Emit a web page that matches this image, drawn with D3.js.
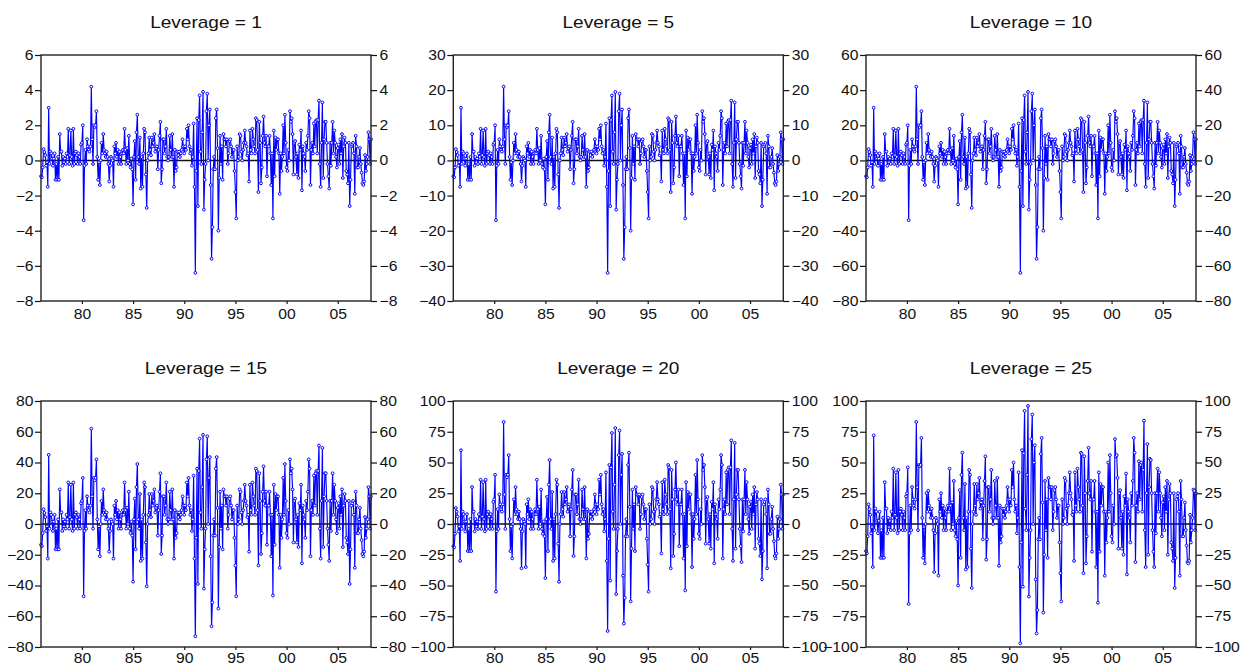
<!DOCTYPE html>
<html>
<head>
<meta charset="utf-8">
<script src="https://cdn.jsdelivr.net/npm/d3@7"></script>
<style>
  body { margin: 0; background: #fff; }
  text { font-family: "Liberation Sans", Arial, sans-serif; fill: #111; }
</style>
</head>
<body>
<svg id="chart" width="1240" height="666"></svg>
<script>
// monthly observations, 1976M01 .. 2008M04
const startYear = 1976;
const leverages = [1, 5, 10, 15, 20, 25];
const xTickYears = [1980, 1985, 1990, 1995, 2000, 2005];
const xTickLabels = ["80", "85", "90", "95", "00", "05"];

const yTicks1 = [6, 4, 2, 0, -2, -4, -6, -8];
const yTicks5 = [30, 20, 10, 0, -10, -20, -30, -40];
const yTicks10 = [60, 40, 20, 0, -20, -40, -60, -80];
const yTicks15 = [80, 60, 40, 20, 0, -20, -40, -60, -80];
const yTicks20 = [100, 75, 50, 25, 0, -25, -50, -75, -100];
const yTicks25 = [100, 75, 50, 25, 0, -25, -50, -75, -100];

const lev1 = [
  -0.9,-0.96,-0.4,0.64,0.48,0.3,-0.3,-0.1,-1.5,3.0,-0.2,0.5,
  0.4,0.1,-0.3,0.1,0.4,-1.1,-0.2,-1.1,0.2,-1.1,1.5,0.5,
  0.5,-0.3,0.2,-0.1,0.1,-0.2,0.4,0.2,1.8,-0.2,0.3,1.7,
  0.2,-0.3,1.8,-0.2,0.4,0.5,0.3,-0.2,0.4,0.2,-0.2,0.9,
  1.0,2.0,-3.4,-0.3,0.6,-0.2,1.2,0.8,0.6,0.5,0.8,4.2,
  1.2,-0.2,2.0,1.9,2.0,2.8,0.2,-1.1,-0.1,-1.4,0,1.0,
  0.4,1.5,0.6,0.4,0.2,0.5,0.2,-0.2,-1.2,-0.3,0.2,0.1,
  0,-1.5,0.8,0.4,1.0,0.2,0.6,-0.2,0.5,0.2,-0.2,0.4,
  0.6,0.4,1.8,0.6,-0.2,0.7,0,1.4,-0.2,-0.4,0.1,-0.5,
  -2.5,0.2,1.1,-1.1,1.6,2.6,0.2,-0.2,1.3,-1.6,0.2,-1.5,
  0.4,1.8,1.6,-0.8,-2.7,0,0.4,1.3,0.6,0.3,1.3,0.8,
  1.0,1.5,0.5,0.7,0.8,-0.5,0.6,1.4,2.2,-1.3,-0.5,1.2,
  1.2,0.4,0.8,1.8,0.2,0,0.2,1.4,0.6,0.2,1.5,0.2,
  -1.5,0.6,-0.6,-0.4,0.5,0.3,0.5,0.2,0.4,0.6,1.2,0.8,
  0.4,0.8,0.6,1.8,1.2,2.0,0.8,0.4,0.6,-0.3,0.2,2.1,
  -1.5,-6.4,-0.6,2.4,-2.6,2.3,3.7,0.5,-0.2,1.6,3.9,-2.8,
  -1.1,-0.2,2.8,3.8,0,2.0,2.9,-1.4,-5.6,-3.8,-0.5,0.2,
  -0.5,2.4,2.9,0.7,-4.0,-1.0,1.4,-0.2,0.8,-1.1,1.5,1.2,
  1.2,0.8,1.2,-0.2,0.4,1.1,1.2,0.8,0.2,0.6,0.6,-0.6,
  -1.8,-3.3,0.8,0,0.2,1.5,1.4,0.5,0,0.6,1.0,1.7,
  1.0,0.8,0.3,0.4,-1.2,1.7,0.6,0.4,1.8,1.2,0.8,0.4,
  2.4,2.3,0.6,-1.8,2.2,1.0,-1.3,-0.4,1.4,2.5,1.0,0.8,
  1.4,-0.9,0.8,0.8,1.4,0.4,-1.4,0.4,-3.3,1.7,-0.9,1.3,
  0.6,1.2,1.2,0.4,-1.9,0.4,-0.6,0.2,2.0,0.4,2.6,1.0,
  -0.4,-0.6,0.6,0,2.8,2.2,2.4,1.5,-0.8,1.0,1.1,0.2,
  -0.8,0.4,-1.0,0.9,0.6,1.7,-1.7,0.8,0.4,0.2,-0.6,1.0,
  0.6,1.4,2.8,2.4,-1.4,0.6,1.0,0.4,2.1,0.8,2.2,2.3,
  0.4,2.3,3.4,-0.2,-1.5,1.0,3.3,-1.0,1.2,2.2,2.2,1.0,
  -0.2,-0.9,-1.6,1.0,-0.3,1.0,2.2,0.4,1.7,1.0,0.2,-0.4,
  0.7,0.9,-0.2,1.2,0.4,1.5,-1.0,0.8,1.3,1.0,-0.6,-0.8,
  -1.3,1.0,-2.6,-1.1,0.8,0.9,1.0,0.4,-1.9,1.4,0.8,-0.4,
  -0.4,0.2,0.7,-0.2,-0.7,-1.3,-1.4,-1.2,0.3,-0.6,-0.2,0.2,
  1.6,1.2,-0.2,1.2
];

const lev5 = [
  -4.5,-4.8,-2,3.2,2.4,1.5,-1.5,-0.5,-7.5,15,-1,2.5,
  2,0.5,-1.5,0.5,2,-5.5,-1,-5.5,1,-5.5,7.5,2.5,
  2.5,-1.5,1,-0.5,0.5,-1,2,1,9,-1,1.5,8.5,
  1,-1.5,9,-1,2,2.5,1.5,-1,2,1,-1,4.5,
  5,10,-17,-1.5,3,-1,6,4,3,2.5,4,21,
  6,-1,10,9.5,10,14,1,-5.5,-0.5,-7,0,5,
  2,7.5,3,2,1,2.5,1,-1,-6,-1.5,1,0.5,
  0,-7.5,4,2,5,1,3,-1,2.5,1,-1,2,
  3,2,9,3,-1,3.5,0,7,-1,-2,0.5,-2.5,
  -12.5,1,5.5,-5.5,8,13,1,-1,6.5,-8,1,-7.5,
  2,9,8,-4,-13.5,0,2,6.5,3,1.5,6.5,4,
  5,7.5,2.5,3.5,4,-2.5,3,7,11,-6.5,-2.5,6,
  6,2,4,9,1,0,1,7,3,1,7.5,1,
  -7.5,3,-3,-2,2.5,1.5,2.5,1,2,3,6,4,
  2,4,3,9,6,10,4,2,3,-1.5,1,10.5,
  -7.5,-32,-3,12,-13,11.5,18.5,2.5,-1,8,19.5,-14,
  -5.5,-1,14,19,0,10,14.5,-7,-28,-19,-2.5,1,
  -2.5,12,14.5,3.5,-20,-5,7,-1,4,-5.5,7.5,6,
  6,4,6,-1,2,5.5,6,4,1,3,3,-3,
  -9,-16.5,4,0,1,7.5,7,2.5,0,3,5,8.5,
  5,4,1.5,2,-6,8.5,3,2,9,6,4,2,
  12,11.5,3,-9,11,5,-6.5,-2,7,12.5,5,4,
  7,-4.5,4,4,7,2,-7,2,-16.5,8.5,-4.5,6.5,
  3,6,6,2,-9.5,2,-3,1,10,2,13,5,
  -2,-3,3,0,14,11,12,7.5,-4,5,5.5,1,
  -4,2,-5,4.5,3,8.5,-8.5,4,2,1,-3,5,
  3,7,14,12,-7,3,5,2,10.5,4,11,11.5,
  2,11.5,17,-1,-7.5,5,16.5,-5,6,11,11,5,
  -1,-4.5,-8,5,-1.5,5,11,2,8.5,5,1,-2,
  3.5,4.5,-1,6,2,7.5,-5,4,6.5,5,-3,-4,
  -6.5,5,-13,-5.5,4,4.5,5,2,-9.5,7,4,-2,
  -2,1,3.5,-1,-3.5,-6.5,-7,-6,1.5,-3,-1,1,
  8,6,-1,6
];

const lev10 = [
  -9,-9.6,-4,6.4,4.8,3,-3,-1,-15,30,-2,5,
  4,1,-3,1,4,-11,-2,-11,2,-11,15,5,
  5,-3,2,-1,1,-2,4,2,18,-2,3,17,
  2,-3,18,-2,4,5,3,-2,4,2,-2,9,
  10,20,-34,-3,6,-2,12,8,6,5,8,42,
  12,-2,20,19,20,28,2,-11,-1,-14,0,10,
  4,15,6,4,2,5,2,-2,-12,-3,2,1,
  0,-15,8,4,10,2,6,-2,5,2,-2,4,
  6,4,18,6,-2,7,0,14,-2,-4,1,-5,
  -25,2,11,-11,16,26,2,-2,13,-16,2,-15,
  4,18,16,-8,-27,0,4,13,6,3,13,8,
  10,15,5,7,8,-5,6,14,22,-13,-5,12,
  12,4,8,18,2,0,2,14,6,2,15,2,
  -15,6,-6,-4,5,3,5,2,4,6,12,8,
  4,8,6,18,12,20,8,4,6,-3,2,21,
  -15,-64,-6,24,-26,23,37,5,-2,16,39,-28,
  -11,-2,28,38,0,20,29,-14,-56,-38,-5,2,
  -5,24,29,7,-40,-10,14,-2,8,-11,15,12,
  12,8,12,-2,4,11,12,8,2,6,6,-6,
  -18,-33,8,0,2,15,14,5,0,6,10,17,
  10,8,3,4,-12,17,6,4,18,12,8,4,
  24,23,6,-18,22,10,-13,-4,14,25,10,8,
  14,-9,8,8,14,4,-14,4,-33,17,-9,13,
  6,12,12,4,-19,4,-6,2,20,4,26,10,
  -4,-6,6,0,28,22,24,15,-8,10,11,2,
  -8,4,-10,9,6,17,-17,8,4,2,-6,10,
  6,14,28,24,-14,6,10,4,21,8,22,23,
  4,23,34,-2,-15,10,33,-10,12,22,22,10,
  -2,-9,-16,10,-3,10,22,4,17,10,2,-4,
  7,9,-2,12,4,15,-10,8,13,10,-6,-8,
  -13,10,-26,-11,8,9,10,4,-19,14,8,-4,
  -4,2,7,-2,-7,-13,-14,-12,3,-6,-2,2,
  16,12,-2,12
];

const lev15 = [
  -13.5,-14.4,-6,9.6,7.2,4.5,-4.5,-1.5,-22.5,45,-3,7.5,
  6,1.5,-4.5,1.5,6,-16.5,-3,-16.5,3,-16.5,22.5,7.5,
  7.5,-4.5,3,-1.5,1.5,-3,6,3,27,-3,4.5,25.5,
  3,-4.5,27,-3,6,7.5,4.5,-3,6,3,-3,13.5,
  15,30,-47,-4.5,9,-3,18,12,9,7.5,12,62,
  18,-3,30,28.5,30,42,3,-16.5,-1.5,-21,0,15,
  6,22.5,9,6,3,7.5,3,-3,-18,-4.5,3,1.5,
  0,-22.5,12,6,15,3,9,-3,7.5,3,-3,6,
  9,6,27,9,-3,10.5,0,21,-3,-6,1.5,-7.5,
  -37.5,3,16.5,-16.5,24,39,3,-3,19.5,-24,3,-22.5,
  6,27,24,-12,-40.5,0,6,19.5,9,4.5,19.5,12,
  15,22.5,7.5,10.5,12,-7.5,9,21,33,-19.5,-7.5,18,
  18,6,12,27,3,0,3,21,9,3,22.5,3,
  -22.5,9,-9,-6,7.5,4.5,7.5,3,6,9,18,12,
  6,12,9,27,18,30,12,6,9,-4.5,3,31.5,
  -22.5,-73,-9,36,-39,34.5,55.5,7.5,-3,24,58,-42,
  -16.5,-3,42,57,0,30,43.5,-21,-66.5,-51,-7.5,3,
  -7.5,36,43.5,10.5,-55,-15,21,-3,12,-16.5,22.5,18,
  18,12,18,-3,6,16.5,18,12,3,9,9,-9,
  -27,-47,12,0,3,22.5,21,7.5,0,9,15,25.5,
  15,12,4.5,6,-18,25.5,9,6,27,18,12,6,
  36,34.5,9,-27,33,15,-19.5,-6,21,37.5,15,12,
  21,-13.5,12,12,21,6,-21,6,-46.5,25.5,-13.5,19.5,
  9,18,18,6,-28.5,6,-9,3,30,6,39,15,
  -6,-9,9,0,42,33,36,22.5,-12,15,16.5,3,
  -12,6,-15,13.5,9,25.5,-25.5,12,6,3,-9,15,
  9,21,42,36,-21,9,15,6,31.5,12,33,34.5,
  6,34.5,51,-3,-22.5,15,49.5,-15,18,33,33,15,
  -3,-13.5,-24,15,-4.5,15,33,6,25.5,15,3,-6,
  10.5,13.5,-3,18,6,22.5,-15,12,19.5,15,-9,-12,
  -19.5,15,-39,-16.5,12,13.5,15,6,-28.5,21,12,-6,
  -6,3,10.5,-3,-10.5,-19.5,-21,-18,4.5,-9,-3,3,
  24,18,-3,18
];

const lev20 = [
  -18,-19,-8,13,10,6,-6,-2,-30,60,-4,10,
  8,2,-6,2,8,-22,-4,-22,4,-22,30,10,
  10,-6,4,-2,2,-4,8,4,36,-4,6,34,
  4,-6,36,-4,8,10,6,-4,8,4,-4,18,
  20,40,-55,-6,12,-4,24,16,12,10,16,83,
  24,-4,40,38,40,56,4,-22,-2,-28,0,20,
  8,30,12,8,4,10,4,-4,-36,-6,4,2,
  0,-35,16,8,20,4,12,-4,10,4,-4,8,
  12,8,36,12,-4,14,0,28,-4,-8,2,-10,
  -44,4,22,-22,32,52,4,-4,26,-30,4,-28,
  8,36,32,-16,-47,0,8,26,12,6,26,16,
  20,30,10,14,16,-10,12,28,44,-26,-10,24,
  24,8,16,36,4,0,4,28,12,4,30,4,
  -28,12,-12,-8,10,6,10,4,8,12,24,16,
  8,16,12,36,24,40,16,8,12,-6,4,42,
  -30,-87,-12,48,-46,46,74,10,-4,32,78,-57,
  -22,-4,56,76,0,40,57,-42,-81,-60,-10,4,
  -10,48,58,14,-63,-20,28,-4,16,-22,30,24,
  24,16,24,-4,8,22,24,16,4,12,12,-12,
  -33,-55,16,0,4,30,28,10,0,12,20,34,
  20,16,6,8,-24,34,12,8,36,24,16,8,
  48,46,12,-36,44,20,-26,-8,28,50,20,16,
  28,-18,16,16,28,8,-28,8,-54,34,-18,26,
  12,24,24,8,-35,8,-12,4,40,8,52,20,
  -8,-12,12,0,56,44,48,30,-16,20,22,4,
  -16,8,-20,18,12,34,-32,16,8,4,-12,20,
  12,28,56,48,-28,12,20,8,42,16,44,46,
  8,46,68,-4,-30,20,66,-20,24,44,44,20,
  -4,-18,-31,20,-6,20,44,8,34,20,4,-8,
  14,18,-4,24,8,30,-20,16,26,20,-12,-16,
  -26,20,-45,-22,16,18,20,8,-36,28,16,-8,
  -8,4,14,-4,-14,-26,-28,-24,6,-12,-4,4,
  32,24,-4,24
];

const lev25 = [
  -22,-24,-10,16,12,7.5,-7.5,-2.5,-35,72,-5,12.5,
  10,2.5,-7.5,2.5,10,-27.5,-5,-27.5,5,-27.5,34,12.5,
  12.5,-7.5,5,-2.5,2.5,-5,10,5,45,-5,7.5,42,
  5,-7.5,44,-5,10,12.5,7.5,-5,10,5,-5,22.5,
  25,46,-65,-7.5,15,-5,30,20,15,12.5,20,83,
  30,-5,48,47,48,70,5,-27.5,-2.5,-32,0,25,
  10,27,15,10,5,12.5,5,-5,-39,-7.5,5,2.5,
  0,-42,20,10,25,5,15,-5,12.5,5,-5,10,
  15,10,45,15,-5,17.5,0,35,-5,-10,2.5,-12.5,
  -50,5,27.5,-27.5,40,58,5,-5,32.5,-37,5,-35,
  10,44,40,-20,-52,0,10,32.5,15,7.5,32.5,20,
  25,37.5,12.5,17.5,20,-12.5,15,35,55,-29,-12.5,30,
  30,10,20,44,5,0,5,35,15,5,37.5,5,
  -34,15,-15,-10,12.5,7.5,12.5,5,10,15,30,20,
  10,20,15,44,30,50,20,10,15,-7.5,5,42,
  -35,-97,-15,60,-51,57.5,92,12.5,-5,40,96,-59,
  -27.5,-5,69,89,0,50,64,-45,-89,-70,-12.5,5,
  -12.5,57,70,17.5,-72,-25,35,-5,20,-27.5,37.5,30,
  30,20,30,-5,10,27.5,30,20,5,15,15,-15,
  -40,-63,20,0,5,37.5,35,12.5,0,15,25,42,
  25,20,7.5,10,-30,42,15,10,45,30,20,10,
  58,57,15,-40,55,25,-32,-10,35,62,25,20,
  35,-22.5,20,20,35,10,-35,10,-64,42,-22.5,32.5,
  15,30,30,10,-42,10,-15,5,50,10,56,25,
  -10,-15,15,0,69,55,56,37.5,-20,25,27.5,5,
  -20,10,-25,22.5,15,41,-41,20,10,5,-15,25,
  15,35,70,58,-31,15,25,10,51,20,48,50,
  10,44,84,-5,-35,25,65,-25,30,53,52,25,
  -5,-22.5,-35,25,-7.5,25,45,10,42,25,5,-10,
  17.5,22.5,-5,30,10,35,-25,20,32.5,25,-15,-20,
  -30,25,-52,-27.5,20,22.5,25,10,-42,35,20,-10,
  -10,5,17.5,-5,-17.5,-31,-32,-30,7.5,-15,-5,5,
  28,27,-5,25
];

const seriesList = [lev1, lev5, lev10, lev15, lev20, lev25];
const yTickList = [yTicks1, yTicks5, yTicks10, yTicks15, yTicks20, yTicks25];

// layout
const colLeft = [41, 453.3, 866];
const rowTop = [55, 401];
const pw = 330, ph = 246;
const stretch = 1.12;   // reference text is a bit wider than plain Arial
const blue = "#0000ff";

function widen(sel) {
  sel.each(function() {
    const w = this.getComputedTextLength();
    this.setAttribute("textLength", w * stretch);
    this.setAttribute("lengthAdjust", "spacingAndGlyphs");
  });
}

const svg = d3.select("#chart");

leverages.forEach((lev, i) => {
  const data = seriesList[i];
  const ticks = yTickList[i];
  const row = Math.floor(i / 3);
  const g = svg.append("g")
    .attr("transform", `translate(${colLeft[i % 3]}, ${rowTop[row]})`);

  const x = d3.scaleLinear().domain([0, data.length - 1]).range([0, pw]);
  const y = d3.scaleLinear().domain(d3.extent(ticks)).range([ph, 0]);

  // title
  g.append("text")
    .attr("x", pw / 2)
    .attr("y", -27)
    .attr("text-anchor", "middle")
    .style("font-size", "17px")
    .text(`Leverage = ${lev}`)
    .call(widen);

  // axes
  const left = g.append("g")
    .call(d3.axisLeft(y).tickValues(ticks).tickSize(6).tickPadding(1.5));
  const right = g.append("g")
    .attr("transform", `translate(${pw},0)`)
    .call(d3.axisRight(y).tickValues(ticks).tickSize(6).tickPadding(2.5));
  const bottom = g.append("g")
    .attr("transform", `translate(0,${ph})`)
    .call(d3.axisBottom(x)
      .tickValues(xTickYears.map(yr => (yr - startYear) * 12))
      .tickFormat((d, k) => xTickLabels[k])
      .tickSize(3).tickPadding(row === 1 ? 3 : 5));

  [left, right, bottom].forEach(ax => {
    ax.select(".domain").remove();
    ax.selectAll("line").attr("stroke", "#111").attr("stroke-width", 1.2);
    ax.selectAll("text")
      .style("font-size", "14px")
      .attr("fill", "#111")
      .style("font-family", '"Liberation Sans", Arial, sans-serif')
      .call(widen);
  });

  // zero line
  g.append("line")
    .attr("x1", 0).attr("x2", pw)
    .attr("y1", y(0)).attr("y2", y(0))
    .attr("stroke", "#111")
    .attr("stroke-width", 1.4);

  // series
  const line = d3.line()
    .x((d, k) => x(k))
    .y(d => y(d));

  g.append("path")
    .datum(data)
    .attr("d", line)
    .attr("fill", "none")
    .attr("stroke", blue)
    .attr("stroke-width", 1.15);

  g.selectAll("circle")
    .data(data)
    .enter()
    .append("circle")
    .attr("cx", (d, k) => x(k))
    .attr("cy", d => y(d))
    .attr("r", 1.4)
    .attr("fill", "#fff")
    .attr("stroke", blue)
    .attr("stroke-width", 1);

  // frame
  g.append("rect")
    .attr("width", pw)
    .attr("height", ph)
    .attr("fill", "none")
    .attr("stroke", "#222")
    .attr("stroke-width", 1.4);
});
</script>
</body>
</html>
